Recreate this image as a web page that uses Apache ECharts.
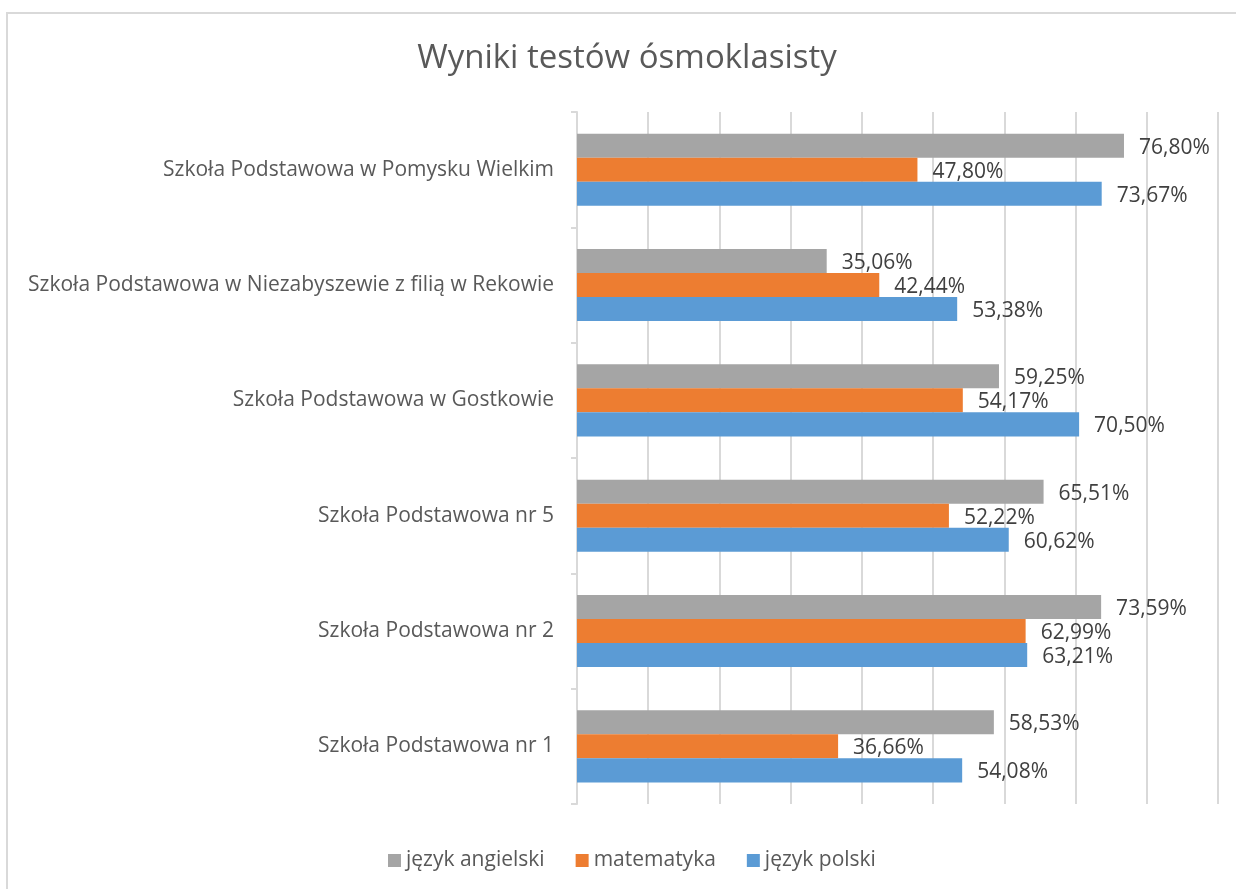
<!DOCTYPE html>
<html>
<head>
<meta charset="utf-8">
<script src="https://cdn.jsdelivr.net/npm/echarts@6/dist/echarts.min.js"></script>
<style>
html,body{margin:0;padding:0;background:#fff;}
#chart{width:1236px;height:889px;}
</style>
</head>
<body>
<div id="chart"></div>
<script>
const title = 'Wyniki testów ósmoklasisty';
const categories = [
  'Szkoła Podstawowa nr 1',
  'Szkoła Podstawowa nr 2',
  'Szkoła Podstawowa nr 5',
  'Szkoła Podstawowa w Gostkowie',
  'Szkoła Podstawowa w Niezabyszewie z filią w Rekowie',
  'Szkoła Podstawowa w Pomysku Wielkim'
];
const seriesNames = ['język angielski', 'matematyka', 'język polski'];
const angielski  = [58.53, 73.59, 65.51, 59.25, 35.06, 76.80];
const matematyka = [36.66, 62.99, 52.22, 54.17, 42.44, 47.80];
const polski     = [54.08, 63.21, 60.62, 70.50, 53.38, 73.67];
const colors = ['#A5A5A5', '#ED7D31', '#5B9BD5'];
const axisMin = 0, axisMax = 90, axisStep = 10;

const FONT = 'Open Sans';
const chart = echarts.init(document.getElementById('chart'), null, {renderer: 'canvas'});

function mkSeries(name, data, color) {
  return {
    name: name,
    type: 'bar',
    data: data,
    barGap: '0%',
    barCategoryGap: '37.5%',
    itemStyle: {color: color},
    label: {
      show: true,
      position: 'right',
      distance: 15,
      offset: [0, 2],
      color: '#404040',
      fontFamily: FONT,
      fontSize: 21,
      formatter: p => p.value.toFixed(2).replace('.', ',') + '%'
    },
    emphasis: {disabled: true}
  };
}

chart.setOption({
  animation: false,
  backgroundColor: '#fff',
  textStyle: {fontFamily: FONT},
  graphic: [
    {type: 'rect', shape: {x: 7, y: 13, width: 1260, height: 900}, style: {fill: 'none', stroke: '#d9d9d9', lineWidth: 2}, silent: true, z: -10},
    {type: 'text', x: 627, y: 59, style: {text: title, fontFamily: FONT, fontSize: 33, fill: '#595959', textAlign: 'center', textVerticalAlign: 'middle'}}
  ],
  legend: {
    data: seriesNames,
    left: 383,
    top: 845,
    icon: 'rect',
    itemWidth: 13,
    itemHeight: 13,
    itemGap: 31,
    textStyle: {color: '#595959', fontFamily: FONT, fontSize: 21}
  },
  grid: {left: 577, right: 18, top: 112, bottom: 85, containLabel: false},
  xAxis: {
    type: 'value',
    min: axisMin, max: axisMax, interval: axisStep,
    axisLabel: {show: false},
    axisLine: {show: false},
    axisTick: {show: false},
    splitLine: {show: true, lineStyle: {color: '#d9d9d9', width: 2}}
  },
  yAxis: {
    type: 'category',
    data: categories,
    axisLine: {show: true, lineStyle: {color: '#d9d9d9', width: 2}},
    axisTick: {show: true, length: 6, lineStyle: {color: '#d9d9d9', width: 2}},
    axisLabel: {color: '#595959', fontFamily: FONT, fontSize: 21, margin: 23}
  },
  series: [
    mkSeries(seriesNames[0], angielski, colors[0]),
    mkSeries(seriesNames[1], matematyka, colors[1]),
    mkSeries(seriesNames[2], polski, colors[2])
  ]
});
</script>
</body>
</html>
